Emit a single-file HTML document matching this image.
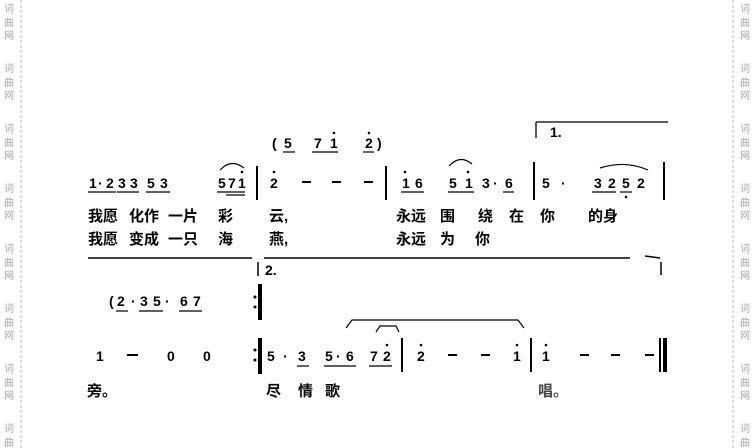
<!DOCTYPE html>
<html><head><meta charset="utf-8"><style>
html,body{margin:0;padding:0;background:#fff;width:754px;height:448px;overflow:hidden}
svg{display:block}
.n{font-family:"Liberation Sans",sans-serif;font-weight:bold;font-size:14px;fill:#000}
.l{font-family:"Liberation Sans","Noto Sans CJK SC",sans-serif;font-weight:bold;font-size:15px;fill:#000}
.w{font-family:"Noto Sans CJK SC",sans-serif;font-size:10px;fill:#aaa}
</style></head><body>
<svg width="754" height="448" viewBox="0 0 754 448">
<g stroke="#bbb" stroke-dasharray="3,2" stroke-width="1">
<line x1="21" y1="0" x2="21" y2="448"/><line x1="733" y1="0" x2="733" y2="448"/>
</g>
<g class="w">
<g id="wm">
<text x="4" y="12">词</text><text x="4" y="26">曲</text><text x="4" y="39">网</text>
<text x="4" y="72">词</text><text x="4" y="86">曲</text><text x="4" y="99">网</text>
<text x="4" y="132">词</text><text x="4" y="146">曲</text><text x="4" y="159">网</text>
<text x="4" y="192">词</text><text x="4" y="206">曲</text><text x="4" y="219">网</text>
<text x="4" y="252">词</text><text x="4" y="266">曲</text><text x="4" y="279">网</text>
<text x="4" y="312">词</text><text x="4" y="326">曲</text><text x="4" y="339">网</text>
<text x="4" y="372">词</text><text x="4" y="386">曲</text><text x="4" y="399">网</text>
<text x="4" y="432">词</text><text x="4" y="446">曲</text>
</g>
<use href="#wm" x="736"/>
</g>

<text class="n" x="272" y="148">(</text>
<text class="n" x="284" y="148">5</text><text class="n" x="314" y="148">7</text><text class="n" x="330" y="148">1</text><text class="n" x="365" y="148">2</text>
<text class="n" x="377" y="148">)</text>
<g fill="#000"><circle cx="334" cy="133" r="1.3"/><circle cx="369" cy="133" r="1.3"/></g>
<g stroke="#000" stroke-width="1.2">
<line x1="283" y1="152" x2="295" y2="152"/><line x1="312" y1="152" x2="338" y2="152"/><line x1="363" y1="152" x2="374" y2="152"/>
</g>
<g stroke="#000" stroke-width="1.3"><line x1="536" y1="122" x2="668" y2="122"/><line x1="536" y1="122" x2="536" y2="138"/></g>
<text class="n" x="550" y="137">1.</text>

<g class="n">
<text x="89" y="188">1</text><text x="98" y="188">·</text><text x="106" y="188">2</text>
<text x="118" y="188">3</text><text x="130" y="188">3</text>
<text x="147" y="188">5</text><text x="160" y="188">3</text>
<text x="218" y="188">5</text><text x="228" y="188">7</text><text x="238" y="188">1</text>
<text x="270" y="188">2</text>
<text x="402" y="188">1</text><text x="415" y="188">6</text>
<text x="449" y="188">5</text><text x="465" y="188">1</text>
<text x="482" y="188">3</text><text x="493" y="188">·</text><text x="505" y="188">6</text>
<text x="542" y="188">5</text><text x="561" y="188">·</text>
<text x="594" y="188">3</text><text x="608" y="188">2</text><text x="622" y="188">5</text><text x="637" y="188">2</text>
</g>
<g fill="#000"><circle cx="242" cy="172" r="1.3"/><circle cx="274" cy="172" r="1.3"/><circle cx="405" cy="172" r="1.3"/><circle cx="468" cy="172" r="1.3"/><circle cx="626" cy="197" r="1.3"/></g>
<g stroke="#000" stroke-width="1.2" fill="none">
<line x1="88" y1="192" x2="116" y2="192"/><line x1="117" y1="192" x2="139" y2="192"/><line x1="146" y1="192" x2="170" y2="192"/>
<line x1="217" y1="192" x2="245" y2="192"/><line x1="226" y1="195" x2="245" y2="195"/>
<line x1="401" y1="192" x2="424" y2="192"/><line x1="448" y1="192" x2="474" y2="192"/><line x1="503" y1="192" x2="514" y2="192"/>
<line x1="592" y1="192" x2="616" y2="192"/><line x1="620" y1="192" x2="632" y2="192"/>
<path d="M220 170 Q231 158 244 168"/><path d="M449 166 Q460 154 472 164"/><path d="M600 168 Q625 160 648 170"/>
</g>
<g stroke="#000" stroke-width="2">
<line x1="257" y1="166" x2="257" y2="200"/><line x1="386" y1="166" x2="386" y2="200"/><line x1="534" y1="162" x2="534" y2="200"/><line x1="664" y1="162" x2="664" y2="200"/>
<line x1="302" y1="182" x2="311" y2="182"/><line x1="332" y1="182" x2="341" y2="182"/><line x1="364" y1="182" x2="373" y2="182"/>
</g>

<g class="l">
<text x="88" y="221">我愿</text><text x="129" y="221">化作</text><text x="168" y="221">一片</text><text x="218" y="221">彩</text><text x="269" y="221">云,</text>
<text x="396" y="221">永远</text><text x="440" y="221">围</text><text x="478" y="221">绕</text><text x="509" y="221">在</text><text x="540" y="221">你</text><text x="588" y="221">的身</text>
<text x="88" y="244">我愿</text><text x="129" y="244">变成</text><text x="168" y="244">一只</text><text x="218" y="244">海</text><text x="269" y="244">燕,</text>
<text x="396" y="244">永远</text><text x="440" y="244">为</text><text x="475" y="244">你</text>
</g>
<g stroke="#000" stroke-width="1.5">
<line x1="88" y1="258" x2="252" y2="258"/><line x1="264" y1="258" x2="630" y2="258"/><line x1="645" y1="256" x2="660" y2="258"/>
<line x1="258" y1="262" x2="258" y2="276"/><line x1="661" y1="262" x2="661" y2="275"/>
</g>
<text class="n" x="265" y="275">2.</text>

<g class="n">
<text x="109" y="306">(</text><text x="117" y="306">2</text><text x="131" y="306">·</text><text x="140" y="306">3</text><text x="153" y="306">5</text><text x="165" y="306">·</text><text x="180" y="306">6</text><text x="193" y="306">7</text>
</g>
<g stroke="#000" stroke-width="1.2"><line x1="116" y1="311" x2="128" y2="311"/><line x1="139" y1="311" x2="163" y2="311"/><line x1="179" y1="311" x2="202" y2="311"/></g>
<g fill="#000"><rect x="258" y="284" width="4" height="36"/><rect x="258" y="338" width="4" height="36"/>
<circle cx="255" cy="297" r="1.5"/><circle cx="255" cy="307" r="1.5"/><circle cx="255" cy="350" r="1.5"/><circle cx="255" cy="360" r="1.5"/></g>

<g class="n">
<text x="96" y="361">1</text><text x="167" y="361">0</text><text x="203" y="361">0</text>
<text x="267" y="361">5</text><text x="283" y="361">·</text><text x="298" y="361">3</text>
<text x="325" y="361">5</text><text x="336" y="361">·</text><text x="346" y="361">6</text>
<text x="370" y="361">7</text><text x="383" y="361">2</text>
<text x="417" y="361">2</text>
<text x="513" y="361">1</text>
<text x="542" y="361">1</text>
</g>
<g fill="#000"><circle cx="387" cy="345" r="1.3"/><circle cx="421" cy="345" r="1.3"/><circle cx="517" cy="345" r="1.3"/><circle cx="546" cy="345" r="1.3"/></g>
<g stroke="#000" stroke-width="1.2" fill="none">
<line x1="297" y1="366" x2="309" y2="366"/><line x1="324" y1="366" x2="356" y2="366"/><line x1="369" y1="366" x2="392" y2="366"/>
<path d="M346 328 L352 320 L518 320 L524 328"/>
<path d="M376 332 L380 326 L396 326 L399 332"/>
</g>
<g stroke="#000" stroke-width="2">
<line x1="127" y1="355" x2="138" y2="355"/>
<line x1="448" y1="355" x2="457" y2="355"/><line x1="481" y1="355" x2="490" y2="355"/>
<line x1="580" y1="355" x2="589" y2="355"/><line x1="611" y1="355" x2="620" y2="355"/><line x1="645" y1="355" x2="654" y2="355"/>
<line x1="402" y1="338" x2="402" y2="372"/><line x1="531" y1="338" x2="531" y2="372"/>
</g>
<rect x="659" y="338" width="2" height="34" fill="#000"/><rect x="663" y="338" width="4" height="34" fill="#000"/>

<g class="l">
<text x="87" y="396">旁。</text><text x="266" y="396">尽</text><text x="298" y="396">情</text><text x="325" y="396">歌</text><text x="538" y="396" fill="#444">唱。</text>
</g>
</svg>
</body></html>
